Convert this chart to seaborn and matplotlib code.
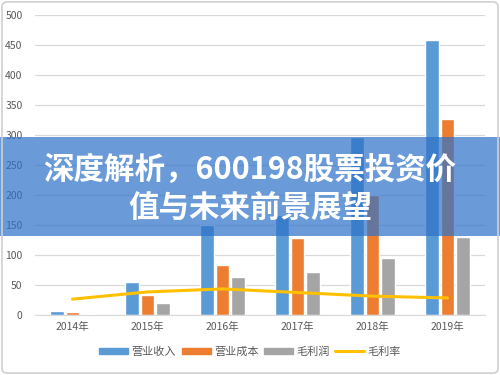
import pandas as pd
import numpy as np
import matplotlib.pyplot as plt
import seaborn as sns
from matplotlib.patches import Patch, FancyBboxPatch, Rectangle
from matplotlib.lines import Line2D

years = ['2014年', '2015年', '2016年', '2017年', '2018年', '2019年']
revenue = [8, 56, 150, 167, 297, 457]
cost = [6, 34, 84, 128, 200, 327]
gross = [2, 20, 64, 72, 95, 130]
margin = [27, 39, 44, 38, 32, 29]
series = ['营业收入', '营业成本', '毛利润']
colors = ['#5b9bd5', '#ed7d31', '#a5a5a5']
title_lines = ['深度解析，600198股票投资价', '值与未来前景展望']

sns.set_style('white')
plt.rcParams['font.family'] = ['Noto Sans CJK SC', 'DejaVu Sans']

data = pd.DataFrame({
    '年份': years * 3,
    '金额': revenue + cost + gross,
    '项目': [s for s in series for _ in years],
})

fig = plt.figure(figsize=(5, 3.75), dpi=100)
ax = fig.add_axes([0.07, 0.159, 0.90, 0.802])

sns.barplot(data=data, x='年份', y='金额', hue='项目', order=years,
            hue_order=series, palette=colors, width=0.62, gap=0.15,
            saturation=1, errorbar=None, ax=ax, legend=False)
sns.pointplot(x=years, y=margin, order=years, color='#ffc000', marker='',
              linewidth=2.2, errorbar=None, ax=ax)

ax.set_xlim(-0.5, 5.5)
ax.set_ylim(0, 500)
ax.set_yticks(range(0, 501, 50))
ax.yaxis.grid(True, color='#d9d9d9', linewidth=0.9)
ax.set_axisbelow(True)
for s in ['top', 'right', 'left']:
    ax.spines[s].set_visible(False)
ax.spines['bottom'].set_color('#d9d9d9')
ax.tick_params(axis='both', length=0, colors='#595959', labelsize=7.5)
ax.tick_params(axis='x', pad=5)
ax.tick_params(axis='y', pad=9)
ax.set_xlabel('')
ax.set_ylabel('')

handles = [Patch(color=c, label=s) for c, s in zip(colors, series)]
handles.append(Line2D([], [], color='#ffc000', linewidth=2.2, label='毛利率'))
fig.legend(handles=handles, loc='center', bbox_to_anchor=(0.5, 0.062), ncol=4,
           frameon=False, fontsize=8, handlelength=2.6, handleheight=0.55,
           handletextpad=0.3, columnspacing=0.5, labelcolor='#595959')

# banner over the chart
fig.patches.append(Rectangle((0, 1 - 236 / 375), 1, 99 / 375, transform=fig.transFigure,
                             facecolor='#2d72c8', alpha=0.71, edgecolor='none', zorder=5))
fig.text(0.5, 1 - 170 / 375, title_lines[0], ha='center', va='center', color='white',
         fontsize=22, fontweight='bold', zorder=6)
fig.text(0.5, 1 - 208 / 375, title_lines[1], ha='center', va='center', color='white',
         fontsize=22, fontweight='bold', zorder=6)

fig.patches.append(FancyBboxPatch((0.004, 0.005), 0.992, 0.99, boxstyle='round,pad=0,rounding_size=0.012',
                                  transform=fig.transFigure, facecolor='none',
                                  edgecolor='#d0d0d0', linewidth=1.2, zorder=7))

plt.savefig('out.png', dpi=100)
